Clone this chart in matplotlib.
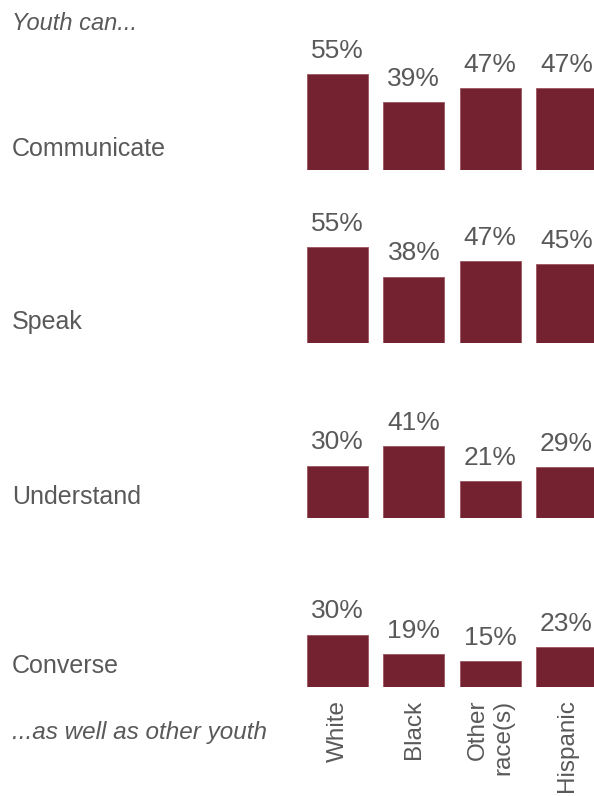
import matplotlib
matplotlib.use("Agg")
import matplotlib.pyplot as plt

# --- Data ---
groups = ["White", "Black", "Other\nrace(s)", "Hispanic"]
skills = ["Communicate", "Speak", "Understand", "Converse"]
communicate = [55, 39, 47, 47]
speak = [55, 38, 47, 45]
understand = [30, 41, 21, 29]
converse = [30, 19, 15, 23]
rows = [communicate, speak, understand, converse]

# --- Style ---
plt.rcParams['font.family'] = ['Liberation Sans', 'DejaVu Sans']
barColor = '#74222F'
textColor = '#595959'
fontSize = 18

W, H = 594, 796
fig = plt.figure(figsize=(W / 100, H / 100), dpi=100)

# bar baselines (pixels from top) for each row
baselines = [170, 343, 518, 687]
axLeft, axRight = 299, 594
axHeight = 105  # pixels for 0..60 %

x = list(range(len(groups)))
for i, (values, skill, base) in enumerate(zip(rows, skills, baselines)):
    ax = fig.add_axes([axLeft / W, 1 - base / H, (axRight - axLeft) / W, axHeight / H])
    bars = ax.bar(x, values, width=0.8, color=barColor, edgecolor='#9a5560', linewidth=0.6)
    ax.set_xlim(-0.505, 3.36)
    ax.set_ylim(0, 60)
    for bar, v in zip(bars, values):
        ax.annotate(f"{v}%", (bar.get_x() + bar.get_width() / 2, v),
                    xytext=(0, 8), textcoords='offset points',
                    ha='center', va='bottom', fontsize=19, color=textColor,
                    annotation_clip=False)
    for side in ax.spines.values():
        side.set_visible(False)
    ax.set_yticks([])
    if i == len(rows) - 1:
        ax.set_xticks(x)
        ax.set_xticklabels(groups, rotation=90, fontsize=17.5, color=textColor,
                           multialignment='right')
        ax.tick_params(axis='x', length=0, pad=9)
    else:
        ax.set_xticks([])
    fig.text(12 / W, 1 - (base - 21) / H, skill, fontsize=fontSize, color=textColor,
             ha='left', va='center')

fig.text(12 / W, 1 - 23 / H, "Youth can...", fontsize=17, color=textColor,
         style='italic', ha='left', va='center')
fig.text(12 / W, 1 - 732 / H, "...as well as other youth", fontsize=17.5,
         color=textColor, style='italic', ha='left', va='center')

fig.savefig("out.png", dpi=100)
